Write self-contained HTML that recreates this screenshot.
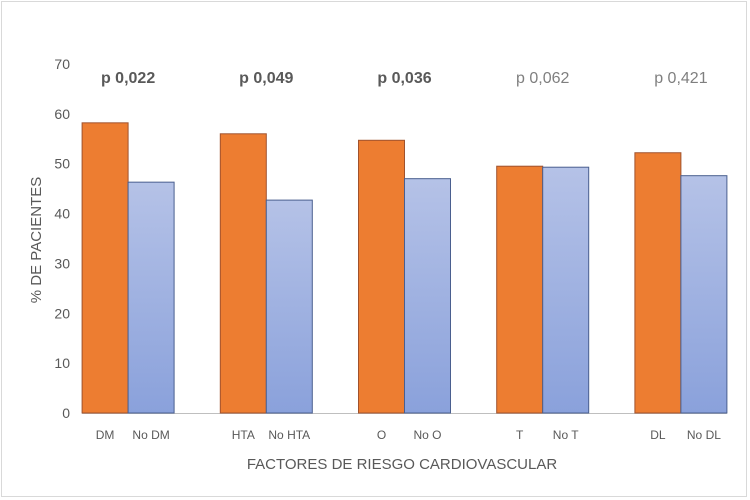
<!DOCTYPE html>
<html><head><meta charset="utf-8"><style>
html,body{margin:0;padding:0;background:#fff;}
svg{display:block;font-family:"Liberation Sans",sans-serif;}
</style></head><body>
<svg id="chart" width="750" height="500" viewBox="0 0 750 500">
<defs><linearGradient id="blueGrad" x1="0" y1="0" x2="0" y2="1"><stop offset="0" stop-color="#b5c2e7"/><stop offset="1" stop-color="#8aa1db"/></linearGradient></defs>
<rect x="1.5" y="1.5" width="745" height="495" fill="#fff" stroke="#d9d9d9"/>
<g id="yaxis"></g><g id="bars"></g><g id="labels"></g>
<text transform="translate(41,240) rotate(-90)" text-anchor="middle" font-size="15" fill="#595959">% DE PACIENTES</text>
<text x="402" y="469" text-anchor="middle" font-size="15" fill="#595959">FACTORES DE RIESGO CARDIOVASCULAR</text>
</svg>
<script>
const groups=["DM","HTA","O","T","DL"];
const withLabels=["DM","HTA","O","T","DL"];
const withoutLabels=["No DM","No HTA","No O","No T","No DL"];
const withValues=[58.2,56.0,54.7,49.5,52.2];
const withoutValues=[46.3,42.7,47.0,49.3,47.6];
const pValues=["p 0,022","p 0,049","p 0,036","p 0,062","p 0,421"];
const pBold=[true,true,true,false,false];
const yTicks=[0,10,20,30,40,50,60,70];
const NS="http://www.w3.org/2000/svg";
const y0=413,yTop=64,yMax=70,left=59,step=138.2,bw=46;
const y=v=>y0-(v/yMax)*(y0-yTop);
const cx=i=>left+step*i+step/2;
function mk(tag,attrs,parent,text){const e=document.createElementNS(NS,tag);for(const k in attrs)e.setAttribute(k,attrs[k]);if(text!==undefined)e.textContent=text;parent.appendChild(e);return e;}
const ya=document.getElementById('yaxis'),bars=document.getElementById('bars'),lab=document.getElementById('labels');
yTicks.forEach(t=>{const e=mk('text',{x:70,y:y(t)+5,'text-anchor':'end','font-size':14,fill:'#595959'},ya,String(t));

});
const ax=mk('line',{x1:cx(0)-bw,x2:cx(4)+bw,y1:y0+0.5,y2:y0+0.5,stroke:'#bfbfbf','stroke-width':1},ya);


groups.forEach((g,i)=>{
const a=mk('rect',{x:cx(i)-bw,y:y(withValues[i]),width:bw,height:y0-y(withValues[i]),fill:'#ed7d31',stroke:'#a0522d','stroke-width':1},bars);


const b=mk('rect',{x:cx(i),y:y(withoutValues[i]),width:bw,height:y0-y(withoutValues[i]),fill:'url(#blueGrad)',stroke:'#4a5f8f','stroke-width':1},bars);


const l1=mk('text',{x:cx(i)-bw/2,y:439,'text-anchor':'middle','font-size':12,fill:'#595959'},lab,withLabels[i]);


const l2=mk('text',{x:cx(i)+bw/2,y:439,'text-anchor':'middle','font-size':12,fill:'#595959'},lab,withoutLabels[i]);


const p=mk('text',{x:cx(i),y:83,'text-anchor':'middle','font-size':16,fill:pBold[i]?'#595959':'#7f7f7f','font-weight':pBold[i]?'bold':'normal'},lab,pValues[i]);


});
</script>
</body></html>
